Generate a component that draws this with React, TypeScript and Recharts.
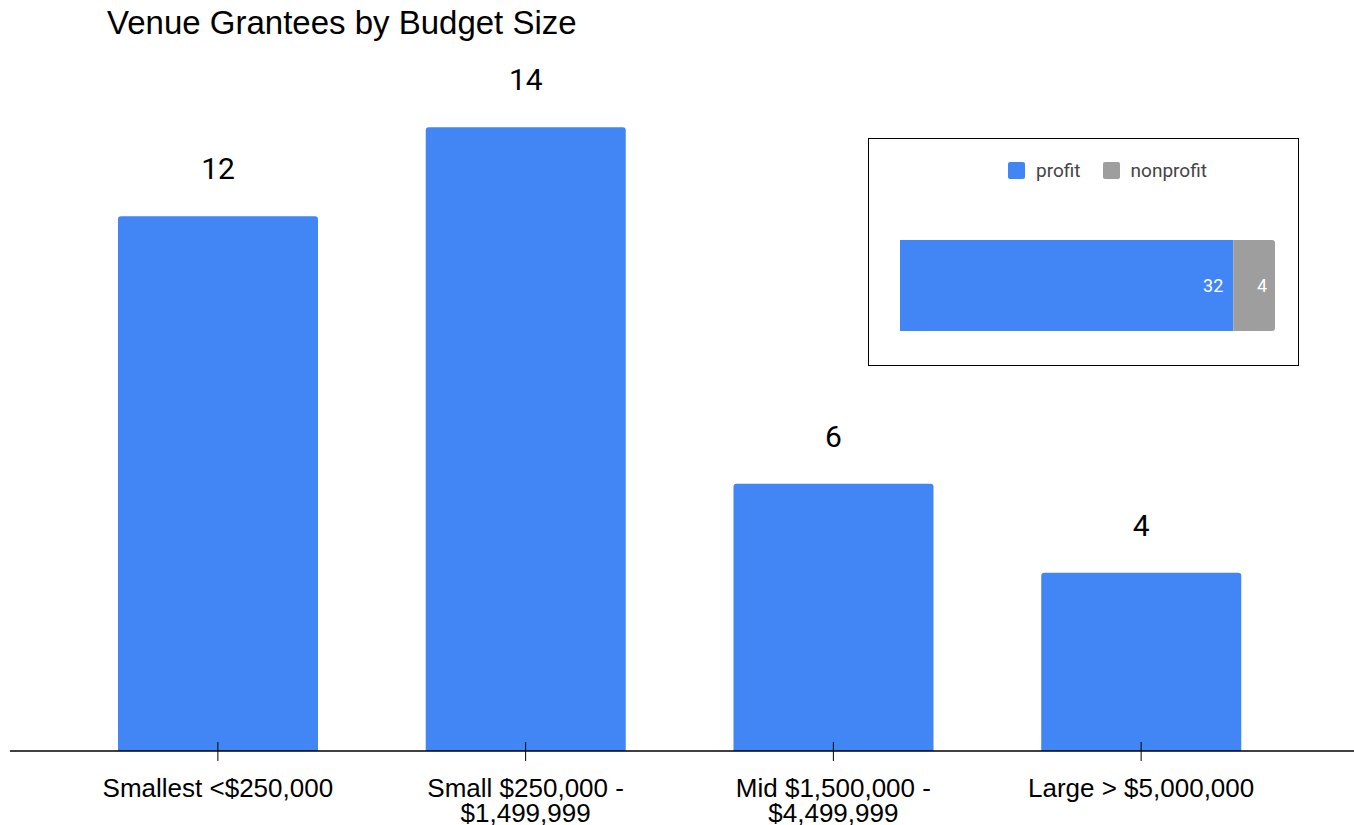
import { BarChart, Bar, XAxis, YAxis, LabelList, Legend } from 'recharts'

const CATEGORIES = ['Smallest <$250,000', 'Small $250,000 -|$1,499,999', 'Mid $1,500,000 -|$4,499,999', 'Large > $5,000,000']
const GRANTEES = [12, 14, 6, 4]

const TYPE_ROW = ['All venues']
const PROFIT = [32]
const NONPROFIT = [4]

const BLUE = '#4285F4'
const GRAY = '#9E9E9E'

const mainData = CATEGORIES.map((c, i) => ({ name: c, value: GRANTEES[i] }))
const insetData = TYPE_ROW.map((r, i) => ({ name: r, profit: PROFIT[i], nonprofit: NONPROFIT[i] }))

function CategoryTick(props: any) {
  const { x, y, payload } = props
  const lines = String(payload.value).split('|')
  return (
    <g>
      <line x1={x} x2={x} y1={y - 17} y2={y + 2} stroke="#000" strokeWidth={1} />
      <text textAnchor="middle" fontFamily="'Liberation Sans', Arial, sans-serif" fontSize={26} fill="#000">
        {lines.map((l: string, i: number) => (
          <tspan key={i} x={x} y={y + 38 + i * 25}>{l}</tspan>
        ))}
      </text>
    </g>
  )
}

function InsetLegend() {
  const items = [
    { label: 'profit', color: BLUE },
    { label: 'nonprofit', color: GRAY },
  ]
  return (
    <div style={{ display: 'flex', justifyContent: 'center', paddingLeft: 70, fontFamily: 'Roboto, sans-serif', fontSize: 19, color: '#444' }}>
      {items.map((it) => (
        <div key={it.label} style={{ display: 'flex', alignItems: 'center', marginRight: 22 }}>
          <span style={{ width: 17, height: 17, background: it.color, borderRadius: 2, marginRight: 11, display: 'inline-block' }} />
          <span>{it.label}</span>
        </div>
      ))}
    </div>
  )
}

export default function App() {
  return (
    <div style={{ position: 'absolute', left: 0, top: 0, width: 1354, height: 825, background: '#fff' }}>
      <div style={{ position: 'absolute', left: 107, top: 4, fontFamily: "'Liberation Sans', Arial, sans-serif", fontSize: 33, lineHeight: '38px', color: '#000' }}>
        Venue Grantees by Budget Size
      </div>
      <BarChart width={1354} height={825} data={mainData} margin={{ top: 38, right: 0, bottom: 0, left: 10 }}>
        <XAxis
          dataKey="name"
          height={74}
          padding={{ left: 54, right: 59 }}
          axisLine={{ stroke: '#000', strokeWidth: 1.5 }}
          tickLine={false}
          tick={<CategoryTick />}
          interval={0}
        />
        <YAxis hide domain={[0, 16]} />
        <Bar dataKey="value" fill={BLUE} barSize={200} radius={[3, 3, 0, 0]} isAnimationActive={false}>
          <LabelList dataKey="value" position="top" offset={37} fill="#000" fontSize={30} fontFamily="Roboto, sans-serif" />
        </Bar>
      </BarChart>

      <div style={{ position: 'absolute', left: 868, top: 138, width: 429, height: 226, border: '1px solid #000', background: '#fff' }}>
        <BarChart width={429} height={226} layout="vertical" data={insetData} margin={{ top: 100, right: 23, bottom: 33, left: 31 }}>
          <XAxis type="number" hide domain={[0, 36]} />
          <YAxis type="category" dataKey="name" hide />
          <Legend verticalAlign="middle" content={<InsetLegend />} wrapperStyle={{ top: 20, left: 0, width: 429 }} />
          <Bar dataKey="profit" stackId="a" fill={BLUE} barSize={91} isAnimationActive={false}>
            <LabelList dataKey="profit" position="insideRight" offset={10} fill="#fff" fontSize={18} fontFamily="Roboto, sans-serif" />
          </Bar>
          <Bar dataKey="nonprofit" stackId="a" fill={GRAY} barSize={91} radius={[0, 3, 3, 0]} isAnimationActive={false}>
            <LabelList dataKey="nonprofit" position="insideRight" offset={8} fill="#fff" fontSize={18} fontFamily="Roboto, sans-serif" />
          </Bar>
        </BarChart>
      </div>
    </div>
  )
}
